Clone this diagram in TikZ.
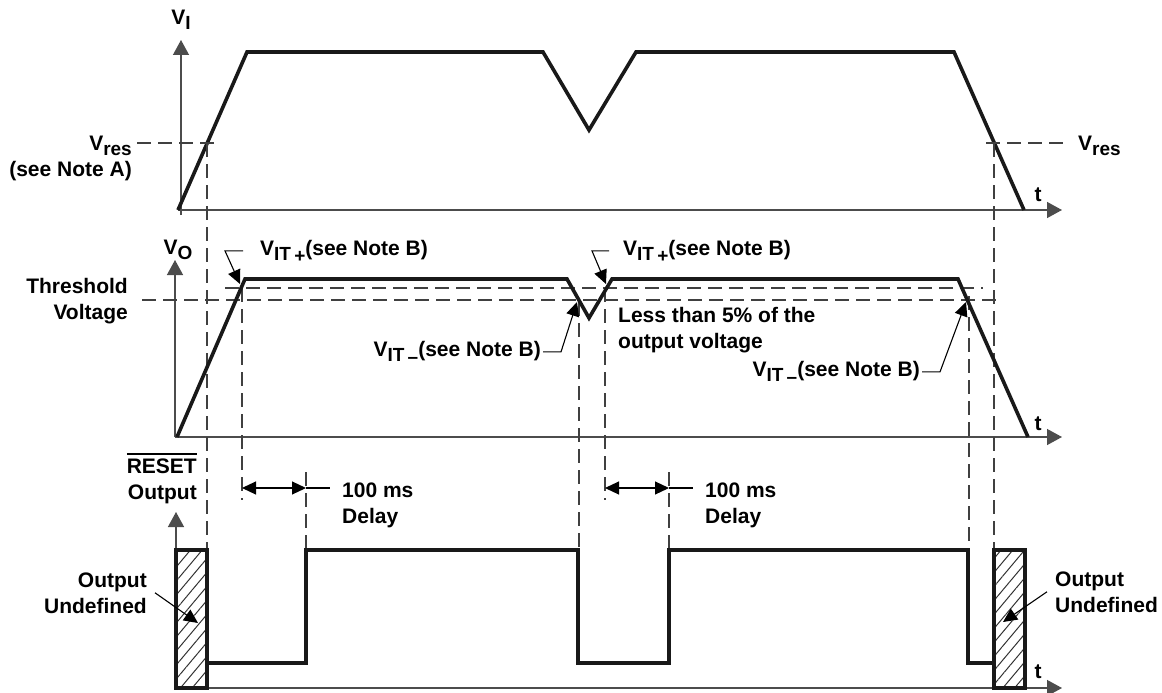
\documentclass[tikz,border=0pt]{standalone}
\usepackage{fontspec}
\setmainfont{Liberation Sans}
\usetikzlibrary{calc,positioning,arrows.meta,patterns.meta}
\newcommand{\vsub}[1]{\raisebox{-5pt}{\fontsize{19}{19}\selectfont #1}}
\newcommand{\ovl}[1]{\setbox0=\hbox{#1}\rlap{\rule[\dimexpr\ht0+3pt\relax]{\wd0}{2.6pt}}\box0}
\tikzset{
>={Triangle[length=14pt,width=13pt]},
  axis/.style={draw=black!70, line width=1.4pt,
    -{Triangle[length=15pt,width=16pt]}},
  signal/.style={draw=black!90, line width=3.6pt},
  guide/.style={draw=black!75, line width=1.3pt, dash pattern=on 14pt off 7pt},
  pointer/.style={draw, line width=1.1pt, ->},
  delay/.style={draw, line width=1.1pt, <->},
  tick/.style={draw, line width=1.1pt},
  undef/.style={
    draw=black!90, line width=3.2pt,
    pattern={Lines[angle=50,distance=9pt,line width=1pt]},
    pattern color=black!80},
  lbl/.style={font=\bfseries\fontsize{21}{26}\selectfont, inner sep=2pt},
}
\begin{document}
\begin{tikzpicture}[x=1pt,y=-1pt]
  \useasboundingbox (0,0) rectangle (1162,693);
  % input voltage
  \draw[axis] (181,215) -- (181,40);
  \draw[axis] (178,210) -- (1062,210);
  \draw[signal] (178,210) -- (247,52) -- (543,52) -- (589,130)
    -- (636,52) -- (954,52) -- (1024,210);
  \node[lbl, anchor=base] (vi) at (181,25) {V\vsub{I}};
  \node[lbl, anchor=base east, align=right] (vresl) at (134,176)
    {V\vsub{res}\\(see Note A)};
  \node[lbl, anchor=base west] (vresr) at (1076,150) {V\vsub{res}};
  \node[lbl, anchor=base] (tin) at (1038,201) {t};
  % output voltage
  \draw[axis] (175,437) -- (175,260);
  \draw[axis] (175,437) -- (1062,437);
  \node[lbl, anchor=base] (vo) at (178,254) {V\vsub{O}};
  \node[lbl, anchor=base east, align=right] (thres) at (130,319)
    {Threshold\\Voltage};
  \node[lbl, anchor=base] (tout) at (1038,430) {t};
  %% the dashed guides
  \coordinate (resl) at (207,143);
  \coordinate (resr) at (994,143);
  \draw[guide] (137,143) -- (216,143);
  \draw[guide] (986,143) -- (1067,143);
  \draw[guide] (225,288) -- (983,288);
  \draw[guide] (142,300) -- (997,300);
  \draw[guide] (resl) -- (207,550);
  \draw[guide] (resr) -- (994,550);
  \draw[guide] (242,288) -- (242,500);
  \draw[guide] (306,472) -- (306,550);
  \draw[guide] (579,302) -- (579,550);
  \draw[guide] (605,288) -- (605,500);
  \draw[guide] (669,472) -- (669,550);
  \draw[guide] (969,296) -- (969,550);
  \draw[signal] (177,437) -- (245,279) -- (567,279) -- (589,318)
    -- (612,279) -- (958,279) -- (1028,437);
  %% threshold labels
  \coordinate (upa) at (240,284);
  \coordinate (upb) at (606,284);
  \coordinate (dna) at (577,302);
  \coordinate (dnb) at (966,302);
  \node[lbl, anchor=base west] (vitpa) at (258,255)
    {V\vsub{IT\,\raisebox{-2pt}{+}}(see Note B)};
  \node[lbl, anchor=base west] (vitpb) at (621,255)
    {V\vsub{IT\,\raisebox{-2pt}{+}}(see Note B)};
  \node[lbl, anchor=base east] (vitma) at (543,356)
    {V\vsub{IT\,\raisebox{-2pt}{--}}(see Note B)};
  \node[lbl, anchor=base east] (vitmb) at (922,376)
    {V\vsub{IT\,\raisebox{-2pt}{--}}(see Note B)};
  \node[lbl, anchor=base west, align=left] (less) at (616,348)
    {Less than 5\% of the\\output voltage};
  \draw[pointer] ([xshift=-15pt]vitpa.west) -- ++(-18,0) -- (upa);
  \draw[pointer] ([xshift=-12pt]vitpb.west) -- ++(-17,0) -- (upb);
  \draw[pointer] (vitma.east) -- ++(18,0) -- (dna);
  \draw[pointer] (vitmb.east) -- ++(18,0) -- (dnb);
  % reset output
  \draw[axis] (176,550) -- (176,512);
  \draw[axis] (176,688) -- (1062,688);
  \draw[signal] (207,663) -| (306,550) -| (578,663) -| (669,550)
    -| (968,663) -- (994,663);
  \draw[undef] (176,550) rectangle (207,688);
  \draw[undef] (994,550) rectangle (1025,688);
  \node[lbl, anchor=base east, align=right] (reset) at (199,499)
    {\ovl{RESET}\\Output};
  \node[lbl, anchor=base] (treset) at (1038,678) {t};
  %% delays
  \coordinate (dla0) at (242,488);
  \coordinate (dla1) at (306,488);
  \coordinate (dlb0) at (605,488);
  \coordinate (dlb1) at (669,488);
  \node[lbl, anchor=base west, align=left] (delaya) at (340,523)
    {100 ms\\Delay};
  \node[lbl, anchor=base west, align=left] (delayb) at (703,523)
    {100 ms\\Delay};
  \draw[delay] (dla0) -- (dla1);
  \draw[tick] (dla1) -- ++(24,0);
  \draw[delay] (dlb0) -- (dlb1);
  \draw[tick] (dlb1) -- ++(24,0);
  %% undefined regions
  \coordinate (unl) at (198,623);
  \coordinate (unr) at (1003,622);
  \node[lbl, anchor=base east, align=right] (undl) at (149,613)
    {Output\\Undefined};
  \node[lbl, anchor=base west, align=left] (undr) at (1053,612)
    {Output\\Undefined};
  \draw[pointer] ([xshift=6pt]undl.east) -- (unl);
  \draw[pointer] ([xshift=-6pt]undr.west) -- (unr);
\end{tikzpicture}
\end{document}
